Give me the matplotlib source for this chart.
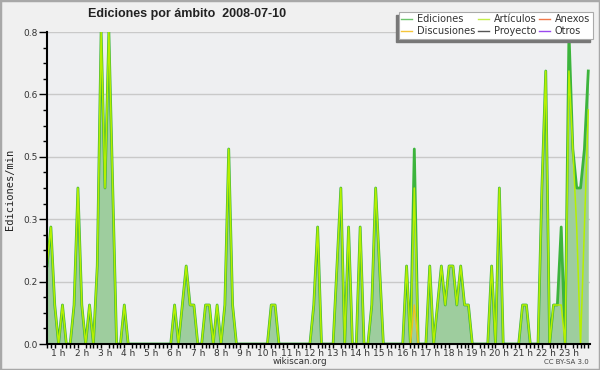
import numpy as np
import matplotlib
matplotlib.use('Agg')
import matplotlib.pyplot as plt
from matplotlib.lines import Line2D
from matplotlib.patches import Rectangle

# ediciones/min en tramos de 10 min, una fila = una hora (00:00 .. 23:20)
ediciones = [
    0.2, 0.3, 0.1, 0.0, 0.1, 0.0,
    0.0, 0.1, 0.4, 0.1, 0.0, 0.1,
    0.0, 0.2, 0.8, 0.4, 0.8, 0.4,
    0.0, 0.0, 0.1, 0.0, 0.0, 0.0,
    0.0, 0.0, 0.0, 0.0, 0.0, 0.0,
    0.0, 0.0, 0.0, 0.1, 0.0, 0.1,
    0.2, 0.1, 0.1, 0.0, 0.0, 0.1,
    0.1, 0.0, 0.1, 0.0, 0.1, 0.5,
    0.1, 0.0, 0.0, 0.0, 0.0, 0.0,
    0.0, 0.0, 0.0, 0.0, 0.1, 0.1,
    0.0, 0.0, 0.0, 0.0, 0.0, 0.0,
    0.0, 0.0, 0.0, 0.1, 0.3, 0.0,
    0.0, 0.0, 0.0, 0.2, 0.4, 0.0,
    0.3, 0.0, 0.0, 0.3, 0.0, 0.0,
    0.1, 0.4, 0.2, 0.0, 0.0, 0.0,
    0.0, 0.0, 0.0, 0.2, 0.0, 0.5,
    0.0, 0.0, 0.0, 0.2, 0.0, 0.1,
    0.2, 0.1, 0.2, 0.2, 0.1, 0.2,
    0.1, 0.1, 0.0, 0.0, 0.0, 0.0,
    0.0, 0.2, 0.0, 0.4, 0.0, 0.0,
    0.0, 0.0, 0.0, 0.1, 0.1, 0.0,
    0.0, 0.0, 0.4, 0.7, 0.0, 0.1,
    0.1, 0.3, 0.0, 0.8, 0.5, 0.4,
    0.4, 0.5, 0.7,
]
articulos = [
    0.2, 0.3, 0.1, 0.0, 0.1, 0.0,
    0.0, 0.1, 0.4, 0.1, 0.0, 0.1,
    0.0, 0.2, 0.8, 0.4, 0.8, 0.4,
    0.0, 0.0, 0.1, 0.0, 0.0, 0.0,
    0.0, 0.0, 0.0, 0.0, 0.0, 0.0,
    0.0, 0.0, 0.0, 0.1, 0.0, 0.1,
    0.2, 0.1, 0.1, 0.0, 0.0, 0.1,
    0.1, 0.0, 0.1, 0.0, 0.1, 0.5,
    0.1, 0.0, 0.0, 0.0, 0.0, 0.0,
    0.0, 0.0, 0.0, 0.0, 0.1, 0.1,
    0.0, 0.0, 0.0, 0.0, 0.0, 0.0,
    0.0, 0.0, 0.0, 0.1, 0.3, 0.0,
    0.0, 0.0, 0.0, 0.2, 0.4, 0.0,
    0.3, 0.0, 0.0, 0.3, 0.0, 0.0,
    0.1, 0.4, 0.2, 0.0, 0.0, 0.0,
    0.0, 0.0, 0.0, 0.2, 0.0, 0.4,
    0.0, 0.0, 0.0, 0.2, 0.0, 0.1,
    0.2, 0.1, 0.2, 0.2, 0.1, 0.2,
    0.1, 0.1, 0.0, 0.0, 0.0, 0.0,
    0.0, 0.2, 0.0, 0.4, 0.0, 0.0,
    0.0, 0.0, 0.0, 0.1, 0.1, 0.0,
    0.0, 0.0, 0.4, 0.7, 0.0, 0.1,
    0.1, 0.1, 0.0, 0.7, 0.5, 0.3,
    0.0, 0.3, 0.6,
]
discusiones = [
    0, 0, 0, 0, 0, 0,  0, 0, 0, 0, 0, 0,  0, 0, 0, 0, 0, 0,
    0, 0, 0, 0, 0, 0,  0, 0, 0, 0, 0, 0,  0, 0, 0, 0, 0, 0,
    0, 0, 0, 0, 0, 0,  0, 0, 0, 0, 0, 0,  0, 0, 0, 0, 0, 0,
    0, 0, 0, 0, 0, 0,  0, 0, 0, 0, 0, 0,  0, 0, 0, 0, 0, 0,
    0, 0, 0, 0, 0, 0,  0, 0, 0, 0, 0, 0,  0, 0, 0, 0, 0, 0,
    0, 0, 0, 0, 0, 0.1,
    0, 0, 0, 0, 0, 0,  0, 0, 0, 0, 0, 0,  0, 0, 0, 0, 0, 0,
    0, 0, 0, 0, 0, 0,  0, 0, 0, 0, 0, 0,  0, 0, 0, 0, 0, 0,
    0, 0, 0, 0, 0, 0,  0, 0, 0,
]

series_names = ['Ediciones', 'Discusiones', 'Artículos', 'Proyecto', 'Anexos', 'Otros']
series_colors = ['#6cc46c', '#f5c53a', '#c4ee4a', '#555555', '#f0784a', '#9a48ee']

ytick_vals = [0.0, 0.16, 0.32, 0.48, 0.64, 0.8]
ytick_labels = ['0.0', '0.2', '0.3', '0.5', '0.6', '0.8']
hour_labels = ['%d h' % h for h in range(1, 24)]

t = np.arange(len(ediciones)) / 6.0   # horas

fig = plt.figure(figsize=(6, 3.7), dpi=100, facecolor='#f0f0f0')
fig.patches.append(Rectangle((0, 0), 1, 1, transform=fig.transFigure,
                             fill=False, edgecolor='#a8a8a8', lw=2.5))
ax = fig.add_axes([47 / 600, 26 / 370, 542.6 / 600, 312 / 370])
ax.set_facecolor('#eeeff1')

ax.fill_between(t, ediciones, color='#9ecd9e', lw=0, zorder=1)
ax.plot(t, ediciones, color='#3cb43c', lw=2.0, zorder=3)
ax.plot(t, articulos, color='#b6f000', lw=1.1, zorder=4)
ax.plot(t, discusiones, color='#f0c020', lw=1.0, zorder=5)

ax.set_xlim(0, 23.39)
ax.set_ylim(0, 0.8)

ax.set_yticks(ytick_vals, ytick_labels)
ax.set_yticks(np.arange(0, 0.801, 0.04), minor=True)
ax.yaxis.grid(True, color='#c9c9c9', lw=1)
ax.set_axisbelow(True)
ax.tick_params(axis='y', which='major', length=6, width=1, labelsize=6.5,
               labelcolor='#333333', pad=1)
ax.tick_params(axis='y', which='minor', length=3, width=1)

ax.set_xticks(np.arange(1, 24) - 0.5, hour_labels)
ax.set_xticks(t, minor=True)
ax.tick_params(axis='x', which='major', length=0, labelsize=6.5,
               labelcolor='#333333', pad=3.5)
ax.tick_params(axis='x', which='minor', length=3, width=1)

for s in ['top', 'right']:
    ax.spines[s].set_visible(False)
for s in ['left', 'bottom']:
    ax.spines[s].set_linewidth(1.5)
    ax.spines[s].set_zorder(6)

fig.text(187 / 600, 1 - 14 / 370, 'Ediciones por ámbito  2008-07-10',
         ha='center', va='center', fontsize=9, fontweight='bold',
         family='Liberation Sans', color='#222222')
fig.text(10 / 600, 1 - 189 / 370, 'Ediciones/min', rotation=90, ha='center',
         va='center', family='DejaVu Sans Mono', fontsize=7.5, color='#222222')
fig.text(300 / 600, 1 - 362 / 370, 'wikiscan.org', ha='center', va='center',
         fontsize=6.3, color='#333333')
fig.text(589 / 600, 1 - 362 / 370, 'CC BY-SA 3.0', ha='right', va='center',
         fontsize=5, color='#444444')

handles = [Line2D([], [], color=c, lw=1) for c in series_colors]
leg = fig.legend(handles, series_names, ncol=3, loc='upper right',
                 bbox_to_anchor=(593 / 600, 1 - 11.5 / 370), fontsize=7,
                 handlelength=1.1, handletextpad=0.5, columnspacing=0.3,
                 labelspacing=0.2, borderpad=0.3, borderaxespad=0,
                 fancybox=False, framealpha=1,
                 facecolor='white', edgecolor='#aaaaaa')
leg.get_frame().set_linewidth(0.8)
for txt in leg.get_texts():
    txt.set_color('#333333')

fig.canvas.draw()
bb = leg.get_window_extent()
fig.patches.append(Rectangle(((bb.x0 - 3) / 600, (bb.y0 - 3) / 370),
                             bb.width / 600, bb.height / 370,
                             transform=fig.transFigure, color='#777777', zorder=0))

fig.savefig('out.png', dpi=100, facecolor=fig.get_facecolor())
